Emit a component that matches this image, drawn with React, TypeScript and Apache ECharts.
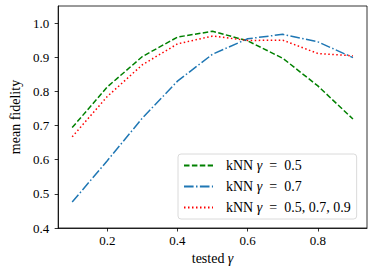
import React, { useEffect, useRef } from "react";
import * as echarts from "echarts";

const testedGamma = [0.1, 0.2, 0.3, 0.4, 0.5, 0.6, 0.7, 0.8, 0.9];
const knn05 = [0.694, 0.813, 0.902, 0.959, 0.976, 0.948, 0.897, 0.816, 0.719];
const knn07 = [0.476, 0.597, 0.722, 0.83, 0.909, 0.954, 0.967, 0.945, 0.899];
const knnAll = [0.667, 0.785, 0.878, 0.939, 0.962, 0.949, 0.95, 0.911, 0.904];
const xTicks = [0.2, 0.4, 0.6, 0.8];
const yTicks = [0.4, 0.5, 0.6, 0.7, 0.8, 0.9, 1.0];
const seriesNames = ["kNN {i|γ} = 0.5", "kNN {i|γ} = 0.7", "kNN {i|γ} = 0.5, 0.7, 0.9"];

const FONT = "Liberation Serif";

export default function App() {
  const ref = useRef<HTMLDivElement>(null);
  useEffect(() => {
    if (!ref.current) return;
    const chart = echarts.init(ref.current, null, { renderer: "svg" });
    const pairs = (ys: number[]) => testedGamma.map((x, i) => [x, ys[i]]);
    const mk = (name: string, data: number[], color: string, type: any) => ({
      name,
      type: "line",
      data: pairs(data),
      symbol: "none",
      lineStyle: { color, width: 1.5, type },
      itemStyle: { color },
      z: 3,
    });
    chart.setOption({
      animation: false,
      backgroundColor: "#fff",
      grid: {
        left: 49,
        right: 7,
        top: 6,
        bottom: 43,
        show: true,
        borderColor: "#000",
        borderWidth: 0.8,
      },
      xAxis: {
        type: "value",
        min: 0.06,
        max: 0.94,
        name: "tested {i|γ}",
        nameLocation: "middle",
        nameGap: 22,
        nameTextStyle: {
          fontFamily: FONT,
          fontSize: 14,
          color: "#000",
          rich: { i: { fontFamily: FONT, fontStyle: "italic", fontSize: 14, color: "#000" } },
        },
        splitLine: { show: false },
        axisLine: { show: true, lineStyle: { color: "#000", width: 0.8 } },
        axisTick: { show: true, inside: false, length: 3.5, lineStyle: { color: "#000", width: 0.8 }, customValues: xTicks },
        axisLabel: {
          customValues: xTicks,
          fontFamily: FONT,
          fontSize: 13,
          color: "#000",
          margin: 6,
          formatter: (v: number) => v.toFixed(1),
        },
      },
      yAxis: {
        type: "value",
        min: 0.4,
        max: 1.05,
        name: "mean fidelity",
        nameLocation: "middle",
        nameGap: 28,
        nameTextStyle: { fontFamily: FONT, fontSize: 14, color: "#000" },
        splitLine: { show: false },
        axisLine: { show: true, lineStyle: { color: "#000", width: 0.8 } },
        axisTick: { show: true, inside: false, length: 3.5, lineStyle: { color: "#000", width: 0.8 }, customValues: yTicks },
        axisLabel: {
          customValues: yTicks,
          fontFamily: FONT,
          fontSize: 13,
          color: "#000",
          margin: 9,
          formatter: (v: number) => v.toFixed(1),
        },
      },
      legend: {
        orient: "vertical",
        left: 178,
        top: 154,
        padding: [4, 6, 4, 5],
        itemWidth: 29,
        itemHeight: 12,
        itemGap: 6,
        borderColor: "#d0d0d0",
        borderWidth: 0.8,
        borderRadius: 3,
        backgroundColor: "rgba(255,255,255,0.8)",
        itemStyle: { opacity: 0 },
        data: seriesNames,
        formatter: (n: string) => n.replace(" = ", "  =  "),
        textStyle: {
          fontFamily: FONT,
          fontSize: 14,
          lineHeight: 15,
          color: "#000",
          padding: [0, 0, 0, 8],
          rich: { i: { fontFamily: FONT, fontStyle: "italic", fontSize: 14, lineHeight: 15, color: "#000" } },
        },
      },
      series: [
        mk(seriesNames[0], knn05, "#008000", [5.5, 2.4]),
        mk(seriesNames[1], knn07, "#1f77b4", [9.6, 2.4, 1.5, 2.4]),
        mk(seriesNames[2], knnAll, "#ff0000", [1.5, 2.5]),
      ],
    });
    return () => chart.dispose();
  }, []);
  return (
    <div
      ref={ref}
      style={{ position: "fixed", left: 0, top: 0, width: 374, height: 271, background: "#fff" }}
    />
  );
}
